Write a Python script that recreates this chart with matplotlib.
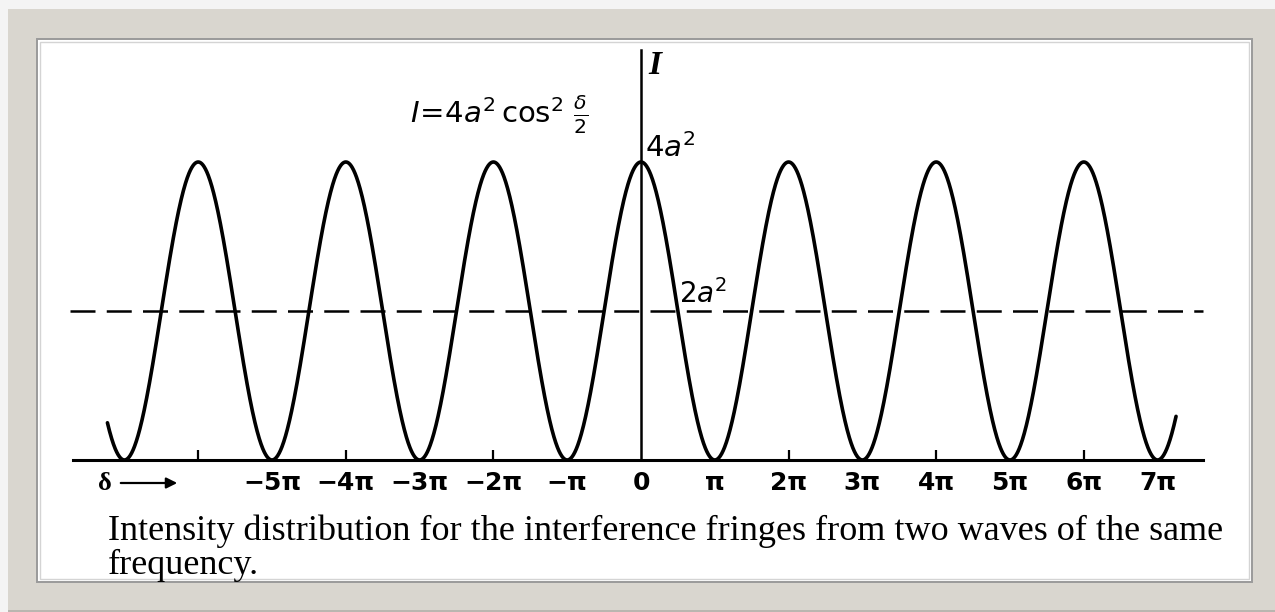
import numpy as np
import matplotlib.pyplot as plt
from matplotlib.patches import Rectangle

W, H = 1275, 612

# range of the phase difference drawn, in units of pi
delta_start, delta_end = -7.23, 7.25
a = 1.0
peak = 4 * a ** 2      # 4a^2
half = 2 * a ** 2      # 2a^2 (mean intensity)

tick_pos = [-5, -4, -3, -2, -1, 0, 1, 2, 3, 4, 5, 6, 7]
tick_lbl = ["\u22125\u03c0", "\u22124\u03c0", "\u22123\u03c0", "\u22122\u03c0", "\u2212\u03c0", "0",
            "\u03c0", "2\u03c0", "3\u03c0", "4\u03c0", "5\u03c0", "6\u03c0", "7\u03c0"]
mark_pos = [-6, -4, -2, 2, 4, 6]
caption = ["Intensity distribution for the interference fringes from two waves of the same",
           "frequency."]

plt.rcParams["mathtext.fontset"] = "dejavusans"


def fx(px):
    return px / W


def fy(py):
    return 1 - py / H


fig = plt.figure(figsize=(12.75, 6.12), dpi=100)
fig.patch.set_facecolor("#f4f4f4")

# mat / frame around the figure, kept under the axes
frame = [
    Rectangle((fx(8), 0), 1 - fx(8), fy(9), facecolor="#d9d6cf", edgecolor="none"),
    Rectangle((fx(8), 0), 1 - fx(8), 2 / H, facecolor="#b9b6b0", edgecolor="none"),
    Rectangle((fx(37), fy(582)), fx(1252) - fx(37), fy(39) - fy(582),
              facecolor="white", edgecolor="#9a9a9a", linewidth=1.4),
    Rectangle((fx(40), fy(579)), fx(1249) - fx(40), fy(42) - fy(579),
              facecolor="none", edgecolor="#d4d4d4", linewidth=1.0),
]
for r in frame:
    r.set_transform(fig.transFigure)
    r.set_zorder(-10)
    fig.add_artist(r)

# 73.8 px per pi horizontally, 74.5 px per unit of intensity vertically, origin at (641, 460)
ax = fig.add_axes([fx(40), fy(580), fx(1250) - fx(40), fy(40) - fy(580)])
ax.set_xlim((40 - 641) / 73.8, (1250 - 641) / 73.8)
ax.set_ylim(-(580 - 460) / 74.5, (460 - 40) / 74.5)
ax.patch.set_alpha(0)

d = np.linspace(delta_start, delta_end, 3000)
I = peak * np.cos(np.pi * d / 2) ** 2
ax.plot(d, I, color="black", lw=2.6, solid_capstyle="round")

x_lo, x_hi = (73 - 641) / 73.8, (1203 - 641) / 73.8
ax.plot([(70 - 641) / 73.8, x_hi], [half, half], color="black", lw=1.8, dashes=(10, 4.5))

for s in ["top", "right"]:
    ax.spines[s].set_visible(False)
ax.spines["bottom"].set_position(("data", 0))
ax.spines["bottom"].set_bounds(x_lo, x_hi)
ax.spines["bottom"].set_linewidth(2.2)
ax.spines["left"].set_position(("data", 0))
ax.spines["left"].set_bounds(0, (460 - 50) / 74.5)
ax.spines["left"].set_linewidth(1.8)
ax.set_yticks([])

ax.set_xticks(tick_pos)
ax.set_xticklabels(tick_lbl, fontweight="bold")
ax.tick_params(axis="x", which="major", length=0, pad=8, labelsize=18)
# short marks at the even multiples of pi
ax.vlines(mark_pos, 0, 10 / 74.5, color="black", lw=1.6)

# delta arrow at the left end of the axis
ax.text((105 - 641) / 73.8, -(483 - 460) / 74.5, "\u03b4", fontsize=19, fontweight="bold",
        family="Liberation Serif", ha="center", va="center")
ax.annotate("", xy=((180 - 641) / 73.8, -(483 - 460) / 74.5),
            xytext=((118 - 641) / 73.8, -(483 - 460) / 74.5),
            arrowprops=dict(arrowstyle="-|>", color="black", lw=1.6, mutation_scale=16),
            annotation_clip=False)

ax.text((410 - 641) / 73.8, (460 - 123) / 74.5,
        r"$I\!=\!4a^2\,\cos^2\,\frac{\delta}{2}$",
        fontsize=21, ha="left", va="baseline")
ax.text((648 - 641) / 73.8, (460 - 50) / 74.5, "I", family="Liberation Serif",
        style="italic", fontweight="bold", fontsize=24, ha="left", va="top")
ax.text((645 - 641) / 73.8, (460 - 157) / 74.5, r"4$a^2$", fontsize=21, ha="left", va="baseline")
ax.text((679 - 641) / 73.8, (460 - 303) / 74.5, r"2$a^2$", fontsize=20, ha="left", va="baseline")

fig.text(fx(108), fy(540), caption[0], family="Liberation Serif", fontsize=26, va="baseline")
fig.text(fx(108), fy(574), caption[1], family="Liberation Serif", fontsize=26, va="baseline")

fig.savefig("out.png", dpi=100)
